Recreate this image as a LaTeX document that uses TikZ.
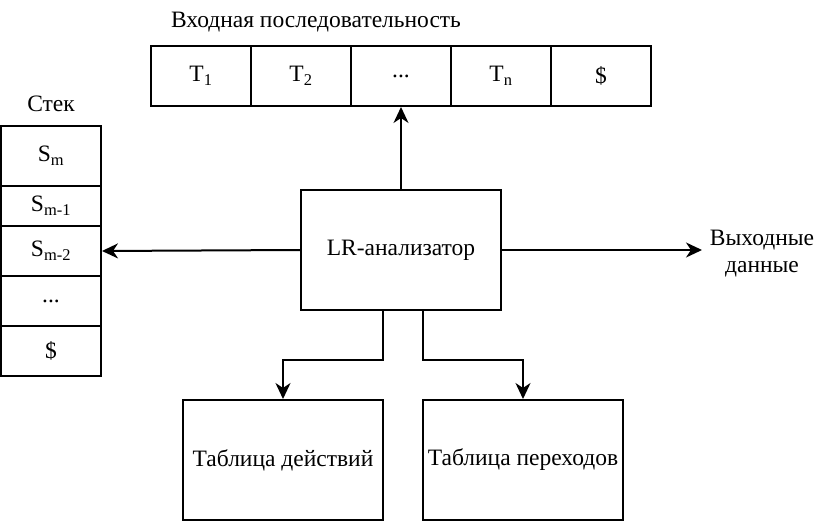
\documentclass[tikz,border=0pt]{standalone}
\usepackage{fontspec}
\setmainfont{Liberation Serif}
\usetikzlibrary{arrows.meta}
\begin{document}
\begin{tikzpicture}[x=1pt,y=-1pt,
  box/.style={draw,line width=2pt,minimum width=200pt,minimum height=120pt,inner sep=0pt,align=center},
  cell/.style={draw,line width=2pt,minimum width=100pt,inner sep=0pt},
  lbl/.style={inner sep=0pt,align=center},
  conn/.style={line width=2pt,-{Stealth[length=16pt,width=15pt,inset=5pt]}},
  every node/.style={font=\fontsize{23.5}{27}\selectfont}]
\useasboundingbox (0,0) rectangle (824,524);
% input sequence
\node[lbl] (intitle) at (316,22) {Входная последовательность};
\node[cell,minimum height=60pt] (t1) at (201,76) {T\textsubscript{1}};
\node[cell,minimum height=60pt] (t2) at (301,76) {T\textsubscript{2}};
\node[cell,minimum height=60pt] (t3) at (401,76) {...};
\node[cell,minimum height=60pt] (tn) at (501,76) {T\textsubscript{n}};
\node[cell,minimum height=60pt] (td) at (601,76) {\$};
% stack
\node[lbl] (stitle) at (51,104) {Стек};
\node[cell,minimum height=60pt] (s1) at (51,156) {S\textsubscript{m}};
\node[cell,minimum height=40pt] (s2) at (51,206) {S\textsubscript{m-1}};
\node[cell,minimum height=50pt] (s3) at (51,251) {S\textsubscript{m-2}};
\node[cell,minimum height=50pt] (s4) at (51,301) {...};
\node[cell,minimum height=50pt] (s5) at (51,351) {\$};
% analyzer
\node[box] (lr) at (401,250) {LR-анализатор};
\node[box] (act) at (283,460) {Таблица действий};
\node[box] (go) at (523,460) {Таблица переходов};
\node[lbl] (out) at (762,254) {Выходные\\данные};
\coordinate (outend) at (702,250);
% connectors
\draw[conn] (lr.north) -- (t3.south);
\draw[conn] (lr.west) -- (s3.east);
\draw[conn] (lr.east) -- (outend);
\draw[conn] (383,310) -- (383,360) -- (283,360) -- (act.north);
\draw[conn] (423,310) -- (423,360) -- (523,360) -- (go.north);
\end{tikzpicture}
\end{document}
